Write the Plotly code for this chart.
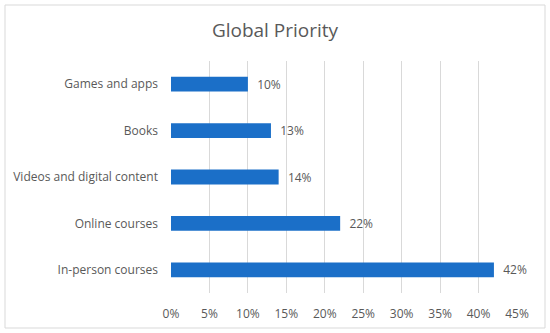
import plotly.graph_objects as go

categories = ["In-person courses", "Online courses", "Videos and digital content", "Books", "Games and apps"]
values = [0.42, 0.22, 0.14, 0.13, 0.10]
tick_vals = [0, 0.05, 0.10, 0.15, 0.20, 0.25, 0.30, 0.35, 0.40, 0.45]
tick_text = ["0%", "5%", "10%", "15%", "20%", "25%", "30%", "35%", "40%", "45%"]

FONT = "Open Sans"
GRAY = "#595959"

fig = go.Figure(go.Bar(
    y=categories, x=values, orientation="h",
    marker=dict(color="#1b6fc8", line=dict(width=0)),
    width=0.32,
    texttemplate="  %{x:.0%}", textposition="outside",
    textfont=dict(family=FONT, size=12, color=GRAY),
    constraintext="none",
    cliponaxis=False,
    hoverinfo="skip",
))

L, R, T, B = 171, 33, 61, 40
W, H = 550, 333
pw, ph = W - L - R, H - T - B

def px_x(x):
    return (x - L) / pw

def px_y(y):
    return (H - B - y) / ph

fig.update_layout(
    width=W, height=H,
    margin=dict(l=L, r=R, t=T, b=B),
    paper_bgcolor="white", plot_bgcolor="white",
    title=dict(text="Global Priority", x=0.5, xanchor="center", y=1 - 30/H, yanchor="middle",
               font=dict(family=FONT, size=19, color=GRAY)),
    showlegend=False,
    xaxis=dict(range=[0, 0.45], tickvals=tick_vals, ticktext=tick_text,
               showgrid=True, gridcolor="#d9d9d9", gridwidth=1,
               zeroline=False, showline=False, ticks="",
               tickfont=dict(family=FONT, size=12, color=GRAY), ticklabelstandoff=12),
    yaxis=dict(categoryorder="array", categoryarray=categories,
               showgrid=False, zeroline=False, showline=False, ticks="",
               tickfont=dict(family=FONT, size=12, color=GRAY), ticklabelstandoff=12),
    shapes=[dict(type="rect", xref="paper", yref="paper",
                 x0=px_x(5), x1=px_x(545), y0=px_y(328), y1=px_y(5),
                 line=dict(color="#d9d9d9", width=1), fillcolor="rgba(0,0,0,0)", layer="below")],
)

fig.write_html("out.html", config={"displayModeBar": False},
               post_script="document.body.style.margin='0';")
